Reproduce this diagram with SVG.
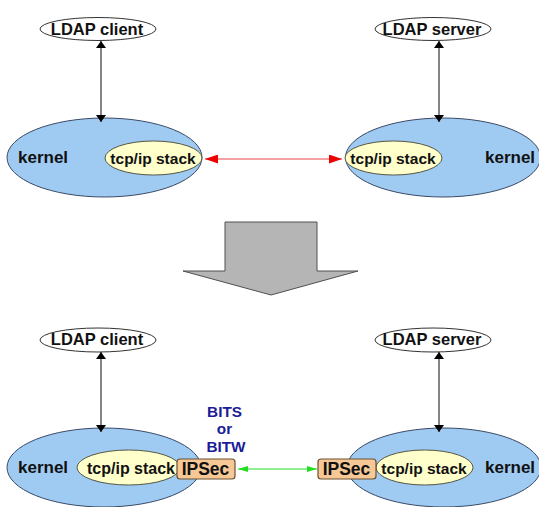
<svg xmlns="http://www.w3.org/2000/svg" width="539" height="507" viewBox="0 0 539 507">
  <style>
    .app { fill: #ffffff; stroke: #333333; stroke-width: 1; }
    .kernel { fill: #9fcbf2; stroke: #3a4a66; stroke-width: 1; }
    .stack { fill: #ffffcc; stroke: #555544; stroke-width: 1; }
    .ipsec { fill: #f7c896; stroke: #6b5030; stroke-width: 1.2; }
    text { font-family: "Liberation Sans", Arial, sans-serif; font-weight: bold; fill: #111111; }
    .tapp { font-size: 16.5px; }
    .tker { font-size: 17px; }
    .tstk { font-size: 15.5px; }
    .tips { font-size: 17.5px; }
    .bits { font-size: 15.3px; fill: #1c1c96; }
    .link { fill: none; stroke-width: 1.2; }
  </style>
  <defs>
    <marker id="ahBlack" viewBox="0 0 10 10" refX="10" refY="5" markerWidth="7" markerHeight="10" markerUnits="userSpaceOnUse" orient="auto-start-reverse" preserveAspectRatio="none">
      <path d="M0,0 L10,5 L0,10 z" fill="#000"/>
    </marker>
    <marker id="ahRed" viewBox="0 0 10 10" refX="10" refY="5" markerWidth="13" markerHeight="9" markerUnits="userSpaceOnUse" orient="auto-start-reverse" preserveAspectRatio="none">
      <path d="M0,0 L10,5 L0,10 z" fill="#ee0000"/>
    </marker>
    <marker id="ahGreen" viewBox="0 0 10 10" refX="10" refY="5" markerWidth="10" markerHeight="6" markerUnits="userSpaceOnUse" orient="auto-start-reverse" preserveAspectRatio="none">
      <path d="M0,0 L10,5 L0,10 z" fill="#22dd22"/>
    </marker>
  </defs>

  <rect x="0" y="0" width="539" height="507" fill="#ffffff"/>

  <!-- top scenario: plain connection -->
  <g id="top-client">
    <ellipse class="app" cx="98" cy="29" rx="58" ry="11.5"/>
    <text class="tapp" x="97" y="34.5" text-anchor="middle">LDAP client</text>
  </g>
  <g id="top-server">
    <ellipse class="app" cx="433" cy="29" rx="58" ry="11.5"/>
    <text class="tapp" x="432" y="34.5" text-anchor="middle">LDAP server</text>
  </g>
  <g id="top-kernel-left">
    <ellipse class="kernel" cx="104.5" cy="157.5" rx="97.5" ry="39.5"/>
    <text class="tker" x="18" y="162.5">kernel</text>
  </g>
  <g id="top-stack-left">
    <ellipse class="stack" cx="153.5" cy="158" rx="48.5" ry="17"/>
    <text class="tstk" x="153" y="163.5" text-anchor="middle">tcp/ip stack</text>
  </g>
  <g id="top-kernel-right">
    <ellipse class="kernel" cx="443" cy="157.5" rx="97.5" ry="39.5"/>
    <text class="tker" x="485" y="162.5">kernel</text>
  </g>
  <g id="top-stack-right">
    <ellipse class="stack" cx="393.5" cy="158" rx="48.5" ry="17"/>
    <text class="tstk" x="393" y="163.5" text-anchor="middle">tcp/ip stack</text>
  </g>

  <!-- transition arrow -->
  <g id="transition">
    <path d="M225,222 L317,222 L317,271 L358,271 L271,295 L183,271 L225,271 Z" fill="#b5b5b5" stroke="#505050" stroke-width="1"/>
  </g>

  <!-- bottom scenario: IPSec bump in the stack / wire -->
  <g id="bottom-client">
    <ellipse class="app" cx="98" cy="340" rx="58" ry="12"/>
    <text class="tapp" x="97" y="345" text-anchor="middle">LDAP client</text>
  </g>
  <g id="bottom-server">
    <ellipse class="app" cx="433" cy="340" rx="58" ry="12"/>
    <text class="tapp" x="432" y="345" text-anchor="middle">LDAP server</text>
  </g>
  <g id="bottom-kernel-left">
    <ellipse class="kernel" cx="104" cy="467.5" rx="97" ry="39.5"/>
    <text class="tker" x="18" y="472.5">kernel</text>
  </g>
  <g id="bottom-stack-left">
    <ellipse class="stack" cx="128.5" cy="467.5" rx="51.5" ry="17.5"/>
    <text class="tstk" x="131" y="474" text-anchor="middle" style="font-size:16px">tcp/ip stack</text>
  </g>
  <g id="bottom-ipsec-left">
    <rect class="ipsec" x="177" y="459" width="58" height="20" rx="3" ry="3"/>
    <text class="tips" x="205.5" y="475" text-anchor="middle">IPSec</text>
  </g>
  <g id="bottom-kernel-right">
    <ellipse class="kernel" cx="444" cy="467.5" rx="97" ry="39.5"/>
    <text class="tker" x="485" y="472.5">kernel</text>
  </g>
  <g id="bottom-stack-right">
    <ellipse class="stack" cx="424.5" cy="467.5" rx="48.5" ry="17.5"/>
    <text class="tstk" x="424" y="474" text-anchor="middle">tcp/ip stack</text>
  </g>
  <g id="bottom-ipsec-right">
    <rect class="ipsec" x="318" y="459" width="58" height="20" rx="3" ry="3"/>
    <text class="tips" x="346.5" y="475" text-anchor="middle">IPSec</text>
  </g>
  <g id="bits-label">
    <text class="bits" x="224.5" y="417" text-anchor="middle">BITS</text>
    <text class="bits" x="224.5" y="434" text-anchor="middle">or</text>
    <text class="bits" x="226" y="452" text-anchor="middle">BITW</text>
  </g>

  <!-- connectors -->
  <g id="connectors">
    <line class="link" x1="101" y1="41" x2="101" y2="122" stroke="#333" marker-start="url(#ahBlack)" marker-end="url(#ahBlack)"/>
    <line class="link" x1="439" y1="41" x2="439" y2="122" stroke="#333" marker-start="url(#ahBlack)" marker-end="url(#ahBlack)"/>
    <line class="link" x1="205" y1="159" x2="342" y2="159" stroke="#ee4444" marker-start="url(#ahRed)" marker-end="url(#ahRed)"/>
    <line class="link" x1="101" y1="352" x2="101" y2="432" stroke="#333" marker-start="url(#ahBlack)" marker-end="url(#ahBlack)"/>
    <line class="link" x1="439" y1="352" x2="439" y2="432" stroke="#333" marker-start="url(#ahBlack)" marker-end="url(#ahBlack)"/>
    <line class="link" x1="238" y1="469" x2="317" y2="469" stroke="#22dd22" marker-start="url(#ahGreen)" marker-end="url(#ahGreen)"/>
  </g>
</svg>
